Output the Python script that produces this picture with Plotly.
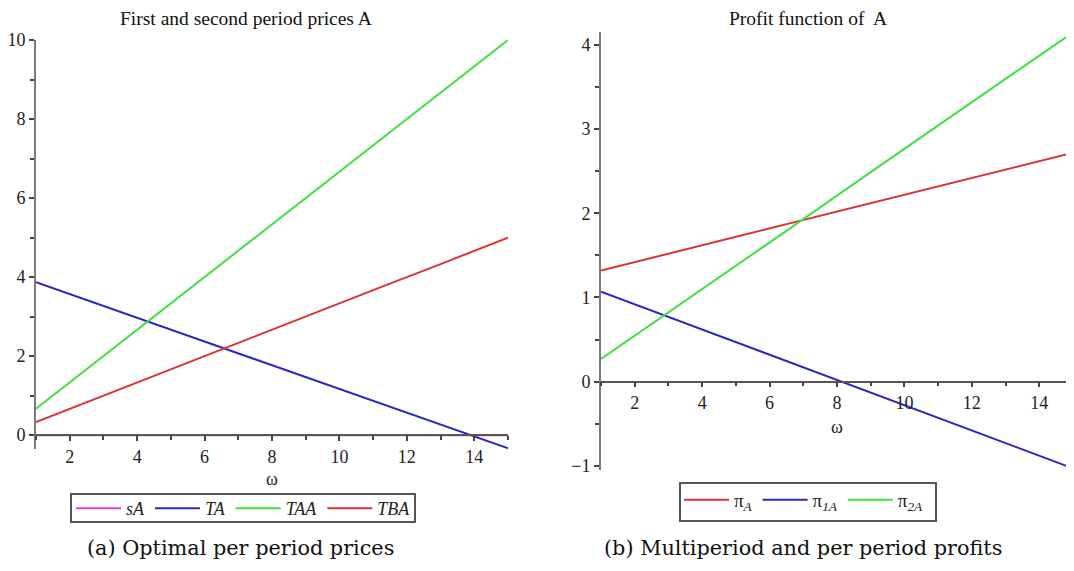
import plotly.graph_objects as go

# ---- data ----
omega = [1, 3, 5, 7, 9, 11, 13, 15]

sA = [0, 0, 0, 0, 0, 0, 0, 0]
TA = [3.87, 3.27, 2.67, 2.07, 1.47, 0.87, 0.27, -0.33]
TAA = [0.67, 2.0, 3.33, 4.67, 6.0, 7.33, 8.67, 10.0]
TBA = [0.33, 1.0, 1.67, 2.33, 3.0, 3.67, 4.33, 5.0]

piA = [1.32, 1.52, 1.72, 1.92, 2.12, 2.32, 2.52, 2.72]
pi1A = [1.07, 0.77, 0.47, 0.17, -0.13, -0.43, -0.73, -1.03]
pi2A = [0.27, 0.82, 1.38, 1.93, 2.49, 3.04, 3.60, 4.15]

left_names = ["<i>sA</i>", "<i>TA</i>", "<i>TAA</i>", "<i>TBA</i>"]
right_names = ["π<sub><i>A</i></sub>", "π<sub><i>1A</i></sub>", "π<sub><i>2A</i></sub>"]

title_left = "First and second period prices A"
title_right = "Profit function of  A"
cap_left = "(a) Optimal per period prices"
cap_right = "(b) Multiperiod and per period profits"
xlab = "ω"

MAG = "#e03ce0"
BLUE = "#2828c0"
GREEN = "#3fe03f"
RED = "#e03232"

W, H = 1074, 571
OFF = 8  # page body margin offset
SERIF = "Liberation Serif, Times New Roman, serif"

def px_x(p):
    return (p - OFF) / W

def px_y(p):
    return 1 - (p - OFF) / H

fig = go.Figure()

for vals, name, col in zip([sA, TA, TAA, TBA], left_names, [MAG, BLUE, GREEN, RED]):
    fig.add_trace(go.Scatter(x=omega, y=vals, mode="lines", name=name,
                             line=dict(color=col, width=2),
                             xaxis="x", yaxis="y", legend="legend"))

for vals, name, col in zip([piA, pi1A, pi2A], right_names, [RED, BLUE, GREEN]):
    fig.add_trace(go.Scatter(x=omega, y=vals, mode="lines", name=name,
                             line=dict(color=col, width=2),
                             xaxis="x2", yaxis="y2", legend="legend2"))

yl_range = [-0.35, 10]
yr_range = [-1.05, 4.16]
yl_dom = [px_y(449), px_y(40)]
yr_dom = [px_y(470), px_y(31.5)]

def zero_pos(rng, dom):
    return dom[0] + (0 - rng[0]) / (rng[1] - rng[0]) * (dom[1] - dom[0])

axis_col = "#7a7a7a"
tickfont = dict(family=SERIF, size=18, color="#222")

common_x = dict(range=[1, 15], dtick=2, tick0=0, showgrid=False, zeroline=False,
                showline=True, linecolor="#555", linewidth=1.5,
                ticks="outside", ticklen=5, tickcolor="#444", tickwidth=1.5,
                minor=dict(dtick=1, ticklen=4, tickcolor="#444", ticks="outside", tickwidth=1.5),
                tickfont=tickfont, anchor="free", automargin=False)

common_y = dict(showgrid=False, zeroline=False, showline=True, linecolor=axis_col,
                linewidth=2, ticks="outside", ticklen=5, tickcolor="#444", tickwidth=1.5,
                tickfont=tickfont, automargin=False)

fig.update_layout(
    width=W, height=H,
    margin=dict(l=0, r=0, t=0, b=0, autoexpand=False),
    paper_bgcolor="white", plot_bgcolor="white",
    xaxis=dict(common_x, domain=[px_x(36), px_x(508)],
               position=zero_pos(yl_range, yl_dom)),
    yaxis=dict(common_y, range=yl_range, domain=yl_dom, dtick=2, tick0=0,
               minor=dict(dtick=1, ticklen=4, tickcolor="#444", ticks="outside"),
               anchor="x"),
    xaxis2=dict(common_x, domain=[px_x(601), px_x(1073)],
                position=zero_pos(yr_range, yr_dom)),
    yaxis2=dict(common_y, range=yr_range, domain=yr_dom, dtick=1, tick0=0,
                minor=dict(dtick=0.5, ticklen=4, tickcolor="#444", ticks="outside"),
                anchor="x2"),
    legend=dict(orientation="h", x=px_x(71), y=px_y(490), xanchor="left", yanchor="top",
                borderwidth=0, bgcolor="rgba(0,0,0,0)",
                font=dict(family=SERIF, size=18, color="#222"),
                itemwidth=45, tracegroupgap=0),
    legend2=dict(orientation="h", x=px_x(679), y=px_y(481), xanchor="left", yanchor="top",
                 borderwidth=0, bgcolor="rgba(0,0,0,0)",
                 font=dict(family=SERIF, size=19, color="#222"),
                 itemwidth=45, tracegroupgap=0),
    showlegend=True,
)

# legend frames
fig.add_shape(type="rect", xref="paper", yref="paper",
              x0=px_x(71), x1=px_x(415), y0=px_y(522), y1=px_y(494),
              line=dict(color="#555", width=2), fillcolor="rgba(0,0,0,0)")
fig.add_shape(type="rect", xref="paper", yref="paper",
              x0=px_x(680), x1=px_x(936), y0=px_y(521), y1=px_y(483),
              line=dict(color="#555", width=2), fillcolor="rgba(0,0,0,0)")

annos = [
    dict(text=title_left, x=px_x(246), y=px_y(18), font=dict(family=SERIF, size=19.5, color="#111")),
    dict(text=title_right, x=px_x(808), y=px_y(18), font=dict(family=SERIF, size=19.5, color="#111")),
    dict(text=xlab, x=px_x(272), y=px_y(479), font=dict(family=SERIF, size=18, color="#222")),
    dict(text=xlab, x=px_x(837), y=px_y(427), font=dict(family=SERIF, size=18, color="#222")),
    dict(text=cap_left, x=px_x(240), y=px_y(548), font=dict(family="DejaVu Serif, serif", size=20.8, color="#111")),
    dict(text=cap_right, x=px_x(803), y=px_y(548), font=dict(family="DejaVu Serif, serif", size=20.8, color="#111")),
]
for a in annos:
    fig.add_annotation(xref="paper", yref="paper", showarrow=False,
                       xanchor="center", yanchor="middle", **a)

fig.write_html("out.html")
